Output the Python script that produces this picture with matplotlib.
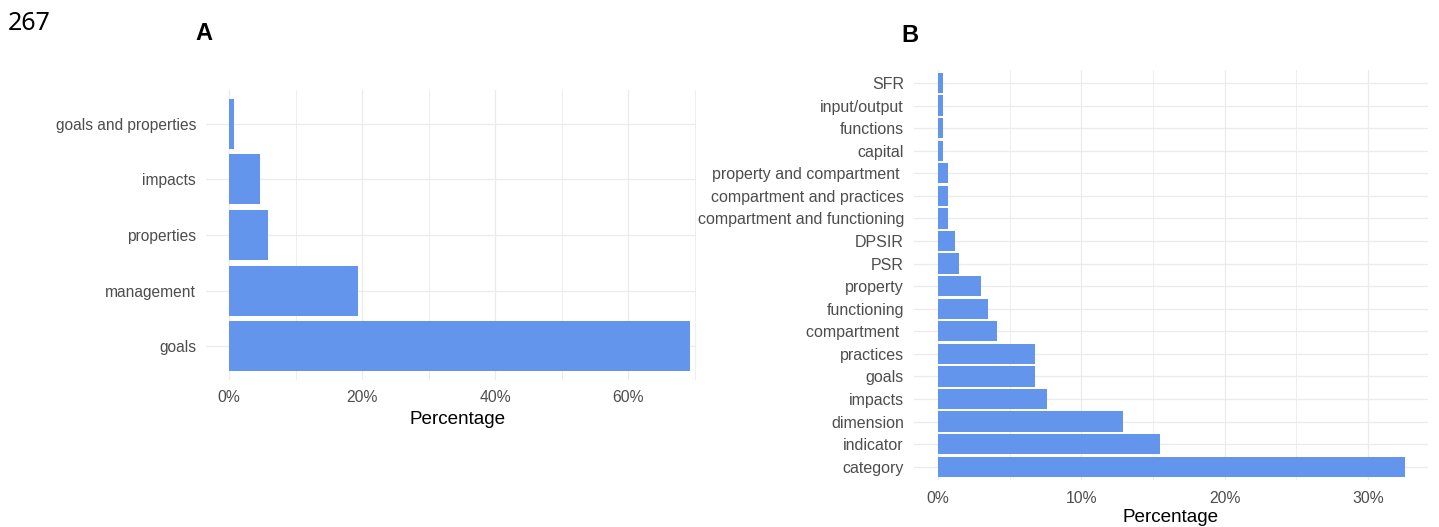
import matplotlib
matplotlib.use("Agg")
import matplotlib.pyplot as plt
from matplotlib.ticker import FixedLocator, FuncFormatter

# ---- data ----
a_categories = ["goals", "management", "properties", "impacts", "goals and properties"]
a_values = [69.3, 19.4, 5.8, 4.65, 0.72]
a_ticks = [0, 20, 40, 60]
a_minor = [10, 30, 50, 70]

b_categories = ["category", "indicator", "dimension", "impacts", "goals", "practices",
                "compartment ", "functioning", "property", "PSR", "DPSIR",
                "compartment and functioning", "compartment and practices",
                "property and compartment ", "capital", "functions", "input/output", "SFR"]
b_values = [32.6, 15.5, 12.9, 7.6, 6.8, 6.8, 4.15, 3.46, 3.0, 1.5, 1.16,
            0.7, 0.7, 0.7, 0.35, 0.35, 0.35, 0.35]
b_ticks = [0, 10, 20, 30]
b_minor = [5, 15, 25]

BAR = "#6495ED"
GRID = "#EBEBEB"
TICKC = "#4D4D4D"
FONT = "Liberation Sans"

W, H = 1439, 527
fig = plt.figure(figsize=(W / 100, H / 100), dpi=100)
fig.patch.set_facecolor("white")


def px_axes(l, t, r, b):
    return fig.add_axes([l / W, 1 - b / H, (r - l) / W, (b - t) / H])


def style(ax, cats, vals, ticks, minor, xlim, ysize, label_xy):
    n = len(cats)
    ax.barh(range(n), vals, height=0.9, color=BAR, zorder=2)
    ax.set_ylim(-0.6, n - 0.4)
    ax.set_xlim(*xlim)
    ax.xaxis.set_major_locator(FixedLocator(ticks))
    ax.xaxis.set_minor_locator(FixedLocator(minor))
    ax.xaxis.set_major_formatter(FuncFormatter(lambda v, p: f"{int(round(v))}%"))
    ax.set_yticks(range(n))
    ax.set_yticklabels(cats)
    ax.grid(which="major", axis="both", color=GRID, lw=0.9, zorder=0)
    ax.grid(which="minor", axis="x", color=GRID, lw=0.6, zorder=0)
    ax.set_axisbelow(True)
    for s in ax.spines.values():
        s.set_visible(False)
    ax.tick_params(which="both", length=0)
    ax.tick_params(axis="y", pad=7.2, labelcolor=TICKC, labelsize=ysize)
    ax.tick_params(axis="x", pad=7.5, labelcolor=TICKC, labelsize=11.3)
    for t in ax.get_yticklabels() + ax.get_xticklabels():
        t.set_fontfamily(FONT)
    ax.set_xlabel("Percentage", fontsize=13.6, color="black", fontfamily=FONT)
    ax.xaxis.label.set_va("center")
    ax.xaxis.set_label_coords(*label_xy)


axA = px_axes(206, 90.3, 696, 379.8)
style(axA, a_categories, a_values, a_ticks, a_minor, (-3.46, 70.2), 11.2,
      ((458 - 206) / (696 - 206), -(419 - 379.8) / (379.8 - 90.3)))

axB = px_axes(914, 69.5, 1428, 480.2)
style(axB, b_categories, b_values, b_ticks, b_minor, (-1.67, 34.2), 11.5,
      (0.5, -(518 - 480.2) / (480.2 - 69.5)))

fig.text(8 / W, 1 - 24 / H, "267", fontsize=18, fontfamily="Noto Sans",
         ha="left", va="center", color="black")
fig.text(203.5 / W, 1 - 34 / H, "A", fontsize=17, fontweight="bold",
         fontfamily="Liberation Sans", ha="center", va="center", color="black")
fig.text(910 / W, 1 - 35 / H, "B", fontsize=17, fontweight="bold",
         fontfamily="Liberation Sans", ha="center", va="center", color="black")

fig.savefig("out.png", dpi=100, facecolor="white")
